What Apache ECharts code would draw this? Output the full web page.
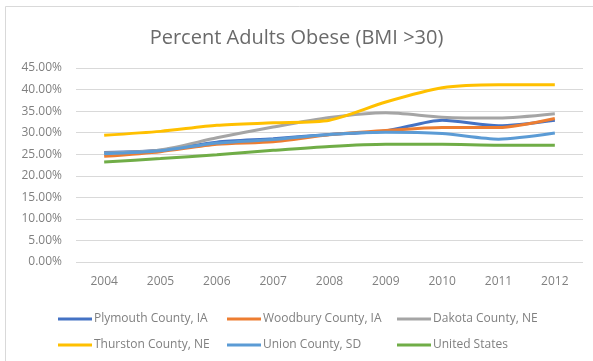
<!DOCTYPE html>
<html>
<head>
<meta charset="utf-8">
<script src="https://cdn.jsdelivr.net/npm/echarts@6/dist/echarts.min.js"></script>
<style>html,body{margin:0;padding:0;background:#fff;}#c{width:593px;height:361px;}</style>
</head>
<body>
<div id="c"></div>
<script>
var years = ['2004','2005','2006','2007','2008','2009','2010','2011','2012'];
var plymouth = [25.4, 25.9, 27.8, 28.6, 29.6, 30.4, 32.9, 31.6, 32.9];
var woodbury = [24.5, 25.6, 27.3, 27.9, 29.5, 30.5, 31.2, 31.2, 33.3];
var dakota   = [25.3, 26.0, 28.8, 31.3, 33.5, 34.6, 33.6, 33.4, 34.4];
var thurston = [29.4, 30.3, 31.7, 32.3, 32.9, 37.1, 40.4, 41.1, 41.1];
var unionSD  = [25.1, 25.8, 27.6, 28.4, 29.6, 30.1, 29.8, 28.5, 29.9];
var usa      = [23.2, 24.0, 24.9, 25.9, 26.8, 27.3, 27.3, 27.1, 27.1];
var yTicks = [0, 5, 10, 15, 20, 25, 30, 35, 40, 45];

var names = ['Plymouth County, IA','Woodbury County, IA','Dakota County, NE','Thurston County, NE','Union County, SD','United States'];
var colors = ['#4472C4','#ED7D31','#A5A5A5','#FFC000','#5B9BD5','#70AD47'];
var datas = [plymouth, woodbury, dakota, thurston, unionSD, usa];
var font = 'Open Sans';
var txt = '#808080';

function mkLegend(left, items){
  return {
    orient: 'vertical', left: left, top: 308,
    data: items, icon: 'rect', itemWidth: 34, itemHeight: 3, itemGap: 14,
    textStyle: {fontFamily: font, fontSize: 12, color: txt, padding: [0,0,0,-3]}
  };
}

var chart = echarts.init(document.getElementById('c'), null, {renderer: 'canvas'});
chart.setOption({
  backgroundColor: '#fff',
  animation: false,
  color: colors,
  graphic: [{
    type: 'rect', shape: {x: 5.5, y: 6.5, width: 700, height: 400},
    style: {fill: 'none', stroke: '#d9d9d9', lineWidth: 1}, silent: true
  }],
  title: {
    text: 'Percent Adults Obese (BMI >30)', left: 'center', top: 23,
    textStyle: {fontFamily: font, fontSize: 20, fontWeight: 'normal', color: '#6a6a6a'}
  },
  legend: [
    mkLegend(53, [names[0], names[3]]),
    mkLegend(222, [names[1], names[4]]),
    mkLegend(392, [names[2], names[5]])
  ],
  grid: {left: 76, right: 10, top: 68, bottom: 99, containLabel: false},
  xAxis: {
    type: 'category', data: years, boundaryGap: true,
    axisLine: {show: false}, axisTick: {show: false},
    axisLabel: {fontFamily: font, fontSize: 12, color: txt, margin: 14}
  },
  yAxis: {
    type: 'value', min: 0, max: 45, interval: 5,
    axisLine: {show: false}, axisTick: {show: false},
    splitLine: {lineStyle: {color: '#d9d9d9', width: 1}},
    axisLabel: {fontFamily: font, fontSize: 12, color: txt, margin: 14,
      formatter: function(v){ return v.toFixed(2) + '%'; }}
  },
  series: names.map(function(n, i){
    return {
      name: n, type: 'line', data: datas[i], smooth: 0.25,
      symbol: 'none', lineStyle: {width: 3, color: colors[i]},
      itemStyle: {color: colors[i]}
    };
  })
});
</script>
</body>
</html>
